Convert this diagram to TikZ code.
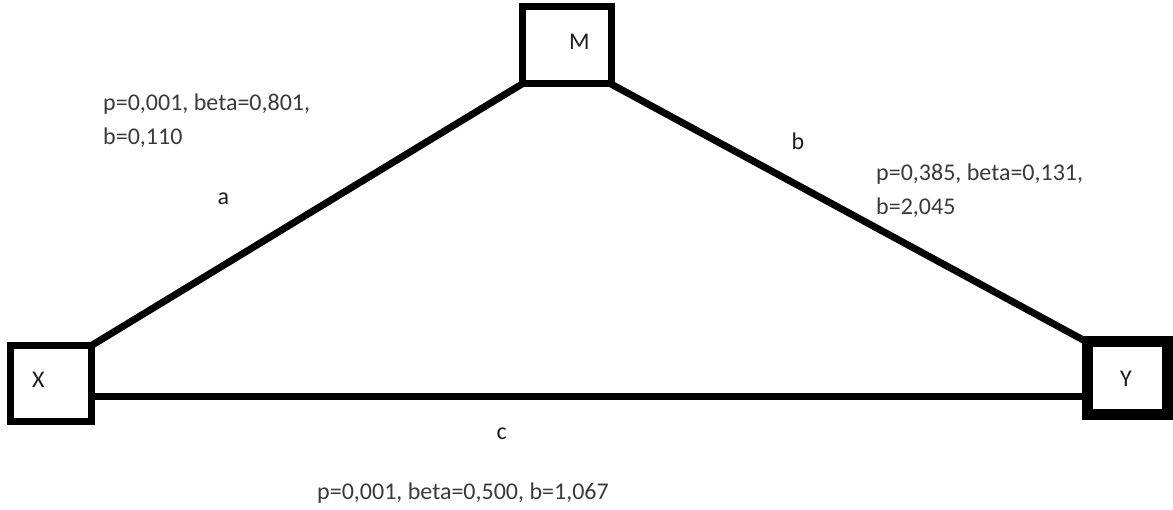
\documentclass[tikz,border=0pt]{standalone}
\usepackage{fontspec}
\setmainfont{Carlito}
\usetikzlibrary{calc}
\definecolor{txtgray}{HTML}{3A3A3A}
\definecolor{lblcol}{HTML}{1E1E1E}
\begin{document}
\begin{tikzpicture}[x=1pt,y=-1pt,
  box/.style={draw=black, line width=7pt, inner sep=0pt, outer sep=0pt, fill=white},
  conn/.style={draw=black, line width=7pt},
  lbl/.style={text=lblcol, font=\fontsize{24}{34}\selectfont, inner sep=0pt, anchor=base},
  stat/.style={text=txtgray, font=\fontsize{24}{34}\selectfont, inner sep=0pt, anchor=base west, align=left}]
\useasboundingbox (0,0) rectangle (1173,510);
% boxes
\node[box, minimum width=89pt, minimum height=77.5pt] (M) at (566.5,45.25) {};
\node[box, minimum width=81pt, minimum height=76.5pt] (X) at (51,383.75) {};
\node[box, line width=11pt, minimum width=80pt, minimum height=73pt] (Y) at (1127,378.5) {};
% connectors
\draw[conn] (X.north east) -- (M.south west);
\draw[conn] (M.south east) -- (Y.north west);
\coordinate (cstart) at ($(X.east)+(0,13.25)$);
\draw[conn] (cstart) -- (Y.west |- cstart);
% box labels
\node[lbl] (Mlabel) at (579.5,50) {M};
\node[lbl] (Xlabel) at (38.3,388) {X};
\node[lbl] (Ylabel) at (1126,387) {Y};
% path labels
\node[lbl] (alabel) at (223.3,205) {a};
\node[lbl] (blabel) at (798,150) {b};
\node[lbl] (clabel) at (501.7,440) {c};
% statistics (anchor base = baseline of the last line)
\node[stat] (astat) at (103,145) {p=0,001, beta=0,801,\\b=0,110};
\node[stat] (bstat) at (876,215) {p=0,385, beta=0,131,\\b=2,045};
\node[stat] (cstat) at (317,499) {p=0,001, beta=0,500, b=1,067};
\end{tikzpicture}
\end{document}
